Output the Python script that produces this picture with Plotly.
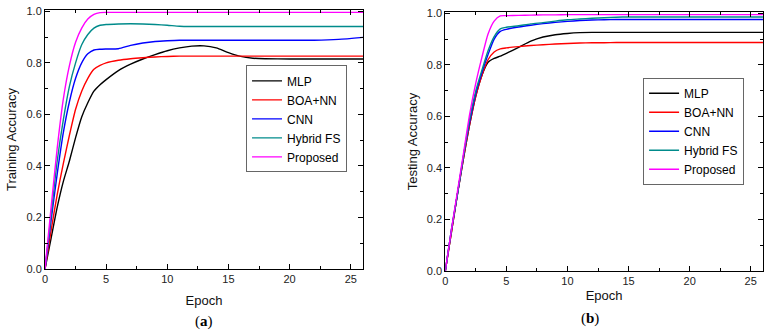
import plotly.graph_objects as go

epochs = [0, 0.5, 1, 1.5, 2, 2.5, 3, 3.5, 4, 4.5, 5, 6, 7, 8, 9, 10, 11, 12, 13, 14, 15, 16, 17, 18, 20, 22, 24, 26]

series_names = ["MLP", "BOA+NN", "CNN", "Hybrid FS", "Proposed"]
series_colors = ["#000000", "#ff0000", "#0000ff", "#008b8b", "#ff00ff"]

# (a) Training accuracy
train_mlp = [0, 0.12, 0.24, 0.34, 0.42, 0.51, 0.59, 0.645, 0.69, 0.715, 0.735, 0.77, 0.795, 0.815, 0.832, 0.847, 0.858, 0.865, 0.866, 0.858, 0.84, 0.825, 0.818, 0.816, 0.815, 0.815, 0.815, 0.815]
train_boa = [0, 0.15, 0.29, 0.41, 0.52, 0.62, 0.69, 0.74, 0.775, 0.79, 0.80, 0.81, 0.816, 0.82, 0.823, 0.825, 0.826, 0.826, 0.826, 0.826, 0.826, 0.826, 0.826, 0.826, 0.826, 0.826, 0.826, 0.826]
train_cnn = [0, 0.19, 0.37, 0.53, 0.65, 0.74, 0.80, 0.835, 0.85, 0.853, 0.854, 0.855, 0.868, 0.877, 0.883, 0.886, 0.888, 0.888, 0.888, 0.888, 0.888, 0.888, 0.888, 0.888, 0.888, 0.888, 0.891, 0.899]
train_hyb = [0, 0.21, 0.42, 0.58, 0.71, 0.80, 0.87, 0.91, 0.935, 0.946, 0.949, 0.951, 0.952, 0.951, 0.949, 0.946, 0.942, 0.941, 0.941, 0.941, 0.941, 0.941, 0.941, 0.941, 0.941, 0.941, 0.941, 0.941]
train_prop = [0, 0.24, 0.47, 0.66, 0.79, 0.88, 0.935, 0.97, 0.988, 0.995, 0.996, 0.996, 0.996, 0.996, 0.996, 0.996, 0.996, 0.996, 0.996, 0.996, 0.996, 0.996, 0.996, 0.996, 0.996, 0.996, 0.996, 0.996]

# (b) Testing accuracy
test_mlp = [0, 0.15, 0.30, 0.44, 0.57, 0.68, 0.76, 0.81, 0.825, 0.834, 0.845, 0.868, 0.892, 0.908, 0.917, 0.922, 0.925, 0.926, 0.926, 0.926, 0.926, 0.926, 0.926, 0.926, 0.926, 0.926, 0.926, 0.926]
test_boa = [0, 0.15, 0.30, 0.44, 0.57, 0.68, 0.76, 0.82, 0.85, 0.862, 0.866, 0.871, 0.875, 0.878, 0.881, 0.883, 0.885, 0.886, 0.886, 0.887, 0.887, 0.887, 0.887, 0.887, 0.887, 0.887, 0.887, 0.887]
test_cnn = [0, 0.16, 0.30, 0.45, 0.58, 0.69, 0.77, 0.84, 0.90, 0.93, 0.938, 0.947, 0.954, 0.96, 0.965, 0.969, 0.972, 0.974, 0.975, 0.976, 0.976, 0.976, 0.976, 0.976, 0.976, 0.976, 0.976, 0.976]
test_hyb = [0, 0.16, 0.30, 0.45, 0.59, 0.70, 0.78, 0.855, 0.91, 0.94, 0.946, 0.952, 0.959, 0.964, 0.97, 0.975, 0.978, 0.981, 0.983, 0.985, 0.986, 0.986, 0.986, 0.986, 0.986, 0.986, 0.986, 0.986]
test_prop = [0, 0.16, 0.31, 0.46, 0.61, 0.73, 0.83, 0.92, 0.97, 0.99, 0.991, 0.992, 0.993, 0.994, 0.994, 0.995, 0.995, 0.995, 0.995, 0.995, 0.995, 0.995, 0.995, 0.995, 0.995, 0.995, 0.995, 0.995]

x_ticks = [0, 5, 10, 15, 20, 25]
y_ticks = [0.0, 0.2, 0.4, 0.6, 0.8, 1.0]

train_series = [train_mlp, train_boa, train_cnn, train_hyb, train_prop]
test_series = [test_mlp, test_boa, test_cnn, test_hyb, test_prop]

fig = go.Figure()
for name, color, ys in zip(series_names, series_colors, train_series):
    fig.add_trace(go.Scatter(x=epochs, y=ys, name=name, mode="lines",
                             line=dict(color=color, width=1.4, shape="spline", smoothing=0.6),
                             xaxis="x", yaxis="y", legend="legend"))
for name, color, ys in zip(series_names, series_colors, test_series):
    fig.add_trace(go.Scatter(x=epochs, y=ys, name=name, mode="lines",
                             line=dict(color=color, width=1.4, shape="spline", smoothing=0.6),
                             xaxis="x2", yaxis="y2", legend="legend2"))

tickfont = dict(family="Liberation Sans, Arial", size=11, color="#222222")
titlefont = dict(family="Liberation Sans, Arial", size=13, color="#111111")

def xaxis(domain, anchor, standoff):
    return dict(domain=domain, anchor=anchor, range=[0, 26], tickvals=x_ticks, automargin=False,
                ticks="inside", ticklen=5, tickwidth=1, tickcolor="black",
                minor=dict(dtick=2.5, tick0=0, ticks="inside", ticklen=3, tickcolor="black"),
                showline=True, linecolor="black", linewidth=1, mirror="ticks",
                showgrid=False, zeroline=False, tickfont=tickfont,
                title=dict(text="Epoch", font=titlefont, standoff=standoff))

def yaxis(domain, anchor, title):
    return dict(domain=domain, anchor=anchor, range=[0, 1.005], tickvals=y_ticks, tickformat=".1f",
                automargin=False,
                ticks="inside", ticklen=5, tickwidth=1, tickcolor="black",
                minor=dict(dtick=0.1, tick0=0, ticks="inside", ticklen=3, tickcolor="black"),
                showline=True, linecolor="black", linewidth=1, mirror="ticks",
                showgrid=False, zeroline=False, tickfont=tickfont,
                title=dict(text=title, font=titlefont, standoff=6))

legend_style = dict(font=dict(family="Liberation Sans, Arial", size=12, color="black"),
                    bgcolor="white", bordercolor="#666666", borderwidth=1,
                    xanchor="left", yanchor="top", tracegroupgap=0, itemwidth=30)

fig.update_layout(
    width=772, height=335,
    margin=dict(l=0, r=0, t=0, b=0),
    paper_bgcolor="white", plot_bgcolor="white",
    xaxis=xaxis([0.0583, 0.4702], "y", 11),
    yaxis=yaxis([0.197, 0.970], "x", "Training Accuracy"),
    xaxis2=xaxis([0.5768, 0.9883], "y2", 4),
    yaxis2=yaxis([0.191, 0.964], "x2", "Testing Accuracy"),
    legend=dict(x=0.3187, y=0.805, **legend_style),
    legend2=dict(x=0.833, y=0.768, **legend_style),
    annotations=[
        dict(text="(<b>a</b>)", x=0.25, y=0.01, xref="paper", yref="paper", showarrow=False,
             yanchor="bottom",
             font=dict(family="Liberation Serif, Times New Roman", size=15, color="black")),
        dict(text="(<b>b</b>)", x=0.7785, y=0.019, xref="paper", yref="paper", showarrow=False,
             yanchor="bottom",
             font=dict(family="Liberation Serif, Times New Roman", size=15, color="black")),
    ],
)

fig.write_html("out.html", config={"displayModeBar": False},
               post_script="document.body.style.margin='0';document.body.style.overflow='hidden';")
